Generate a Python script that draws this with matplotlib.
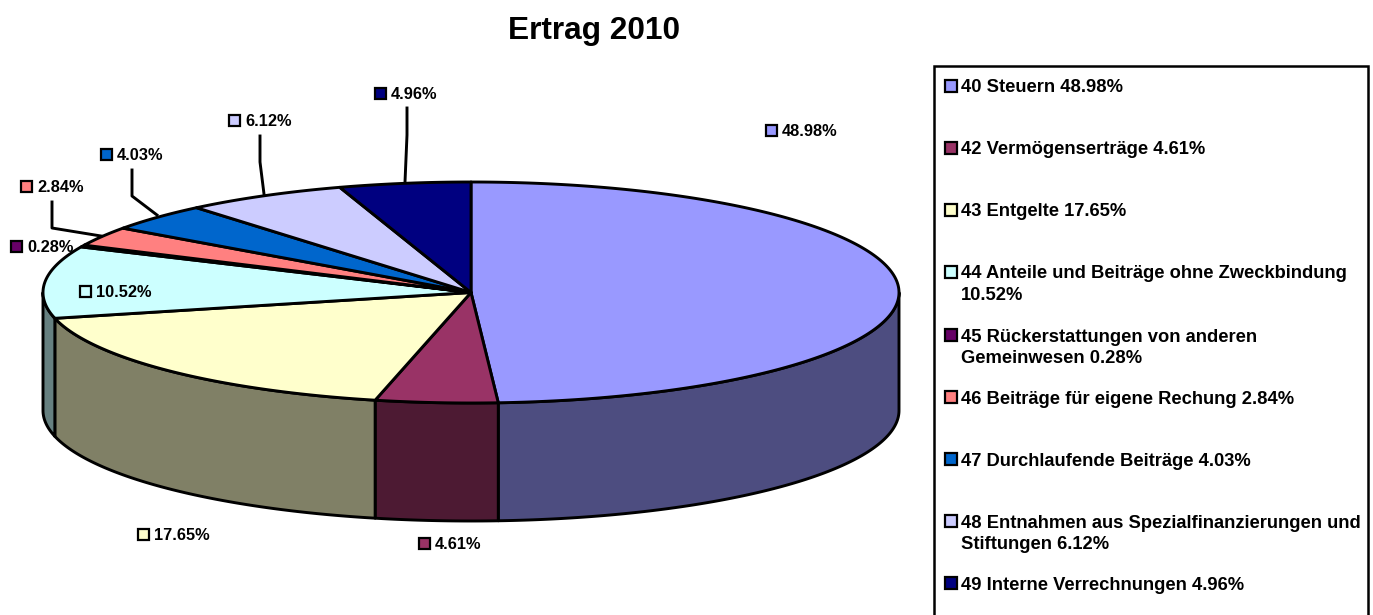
import numpy as np
import matplotlib
matplotlib.use("Agg")
import matplotlib.pyplot as plt
from matplotlib.patches import Rectangle

plt.rcParams["font.family"] = ["Liberation Sans", "DejaVu Sans"]
plt.rcParams["font.weight"] = "bold"

# data
title = "Ertrag 2010"
values = [48.98, 4.61, 17.65, 10.52, 0.28, 2.84, 4.03, 6.12, 4.96]
legend_names = [
    "40 Steuern",
    "42 Vermögenserträge",
    "43 Entgelte",
    "44 Anteile und Beiträge ohne Zweckbindung\n",
    "45 Rückerstattungen von anderen\nGemeinwesen",
    "46 Beiträge für eigene Rechung",
    "47 Durchlaufende Beiträge",
    "48 Entnahmen aus Spezialfinanzierungen und\nStiftungen",
    "49 Interne Verrechnungen",
]
colors = ["#9999FF", "#993366", "#FFFFCC", "#CCFFFF", "#660066",
          "#FF8080", "#0066CC", "#CCCCFF", "#000080"]

# layout in pixels
W, H = 1373, 615
cx, cy, rx, ry, depth = 471, 292.5, 428, 110.5, 118
label_pos = [(766, 131), (419, 544), (138, 535), (80, 292), (11, 247),
             (21, 187), (101, 155), (229, 121), (375, 94)]
legend_y = [86, 148, 210, 272, 335, 397, 459, 521, 583]
leaders = {
    5: [(52, 202), (52, 228), (101, 236)],
    6: [(132, 170), (132, 196), (157, 215)],
    7: [(260, 136), (260, 162), (264, 194)],
    8: [(407, 108), (407, 135), (405, 182)],
}
LW = 2.1


def rim(a0, a1, dy=0.0):
    # angles in degrees, clockwise from the top of the ellipse
    t = np.radians(np.linspace(a0, a1, max(int(abs(a1 - a0) * 2), 2)))
    return cx + rx * np.sin(t), cy - ry * np.cos(t) + dy


def darker(c):
    r, g, b = matplotlib.colors.to_rgb(c)
    return (r * 0.5, g * 0.5, b * 0.5)


fig = plt.figure(figsize=(W / 100, H / 100), dpi=100)
ax = fig.add_axes([0, 0, 1, 1])
ax.set_xlim(0, W)
ax.set_ylim(H, 0)
ax.axis("off")

edges = np.cumsum([0] + values) / sum(values) * 360

# side wall, only the front half shows
for i in range(len(values)):
    a0, a1 = max(edges[i], 90), min(edges[i + 1], 270)
    if a1 <= a0:
        continue
    x0, y0 = rim(a0, a1)
    x1, y1 = rim(a1, a0, depth)
    ax.fill(np.r_[x0, x1], np.r_[y0, y1], facecolor=darker(colors[i]),
            edgecolor="black", lw=LW, joinstyle="round", zorder=2)

# top face
for i in range(len(values)):
    x0, y0 = rim(edges[i], edges[i + 1])
    ax.fill(np.r_[cx, x0], np.r_[cy, y0], facecolor=colors[i],
            edgecolor="black", lw=LW, joinstyle="round", zorder=3)

# leader lines
for pts in leaders.values():
    xs, ys = zip(*pts)
    ax.plot(xs, ys, color="black", lw=LW, solid_joinstyle="round", zorder=4)

# data labels
for i, v in enumerate(values):
    x, y = label_pos[i]
    ax.add_patch(Rectangle((x, y - 6), 11, 11, facecolor=colors[i],
                           edgecolor="black", lw=1.6, zorder=5))
    ax.text(x + 16, y + 0.7, f"{v:.2f}%", fontsize=11.8, va="center", ha="left", zorder=5)

# legend box runs off the bottom of the picture
ax.add_patch(Rectangle((934, 66), 434, 600, facecolor="white", edgecolor="black",
                       lw=1.8, clip_on=True, zorder=1))
for i, v in enumerate(values):
    y = legend_y[i]
    ax.add_patch(Rectangle((945, y - 6), 12, 12, facecolor=colors[i],
                           edgecolor="black", lw=1.6, zorder=5))
    name = legend_names[i]
    sep = "" if name.endswith("\n") else " "
    ax.text(961, y - 6.5, f"{name}{sep}{v:.2f}%", fontsize=13.25, va="top", ha="left",
            linespacing=1.38, zorder=5)

ax.text(594, 30.5, title, fontsize=22.8, ha="center", va="center")

fig.savefig("out.png", dpi=100)
